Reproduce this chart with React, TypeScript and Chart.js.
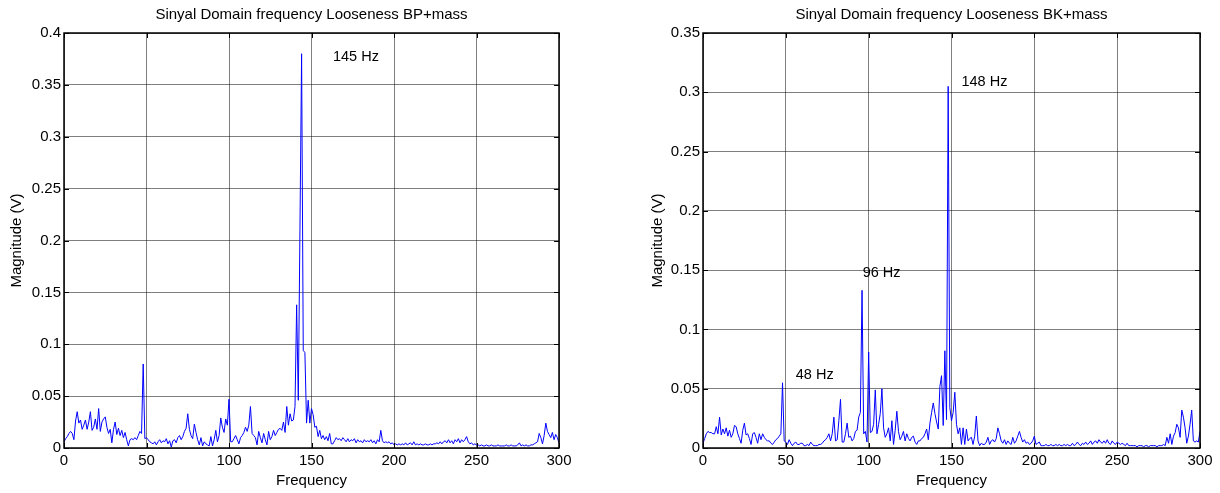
import React, { useEffect, useRef } from "react";
import { Chart, registerables } from "chart.js";

Chart.register(...registerables);

const FONT = "'Liberation Sans', Arial, Helvetica, sans-serif";

// FFT bins, 1 Hz resolution
const FREQ_HZ: number[] = Array.from({ length: 301 }, (_, i) => i);
const X_TICKS = [0, 50, 100, 150, 200, 250, 300];

const BP_TITLE = "Sinyal Domain frequency Looseness BP+mass";
const BK_TITLE = "Sinyal Domain frequency Looseness BK+mass";
const X_LABEL = "Frequency";
const Y_LABEL = "Magnitude (V)";

const BP_Y_TICKS = [0, 0.05, 0.1, 0.15, 0.2, 0.25, 0.3, 0.35, 0.4];
const BK_Y_TICKS = [0, 0.05, 0.1, 0.15, 0.2, 0.25, 0.3, 0.35];

const BP_MAG = [
  0.006, 0.009, 0.011, 0.014, 0.016, 0.014, 0.008, 0.026, 0.035, 0.024,
  0.027, 0.018, 0.022, 0.027, 0.018, 0.025, 0.035, 0.017, 0.020, 0.028,
  0.018, 0.038, 0.016, 0.025, 0.028, 0.030, 0.020, 0.014, 0.018, 0.005,
  0.018, 0.025, 0.013, 0.019, 0.012, 0.017, 0.010, 0.015, 0.008, 0.002,
  0.008, 0.009, 0.008, 0.010, 0.008, 0.012, 0.016, 0.014, 0.081, 0.009,
  0.010, 0.008, 0.006, 0.005, 0.004, 0.006, 0.003, 0.006, 0.008, 0.005,
  0.007, 0.006, 0.009, 0.004, 0.007, 0.001, 0.007, 0.008, 0.005, 0.010,
  0.012, 0.008, 0.011, 0.016, 0.019, 0.033, 0.018, 0.012, 0.009, 0.023,
  0.015, 0.008, 0.003, 0.010, 0.002, 0.006, 0.004, 0.003, 0.002, 0.011,
  0.002, 0.008, 0.017, 0.006, 0.012, 0.029, 0.020, 0.015, 0.028, 0.022,
  0.047, 0.006, 0.006, 0.009, 0.012, 0.008, 0.004, 0.010, 0.012, 0.015,
  0.020, 0.016, 0.022, 0.040, 0.014, 0.012, 0.010, 0.003, 0.016, 0.010,
  0.005, 0.014, 0.008, 0.003, 0.016, 0.008, 0.011, 0.017, 0.012, 0.015,
  0.018, 0.019, 0.017, 0.025, 0.015, 0.040, 0.022, 0.033, 0.026, 0.027,
  0.040, 0.138, 0.046, 0.210, 0.380, 0.094, 0.092, 0.024, 0.046, 0.024,
  0.038, 0.032, 0.020, 0.021, 0.011, 0.017, 0.009, 0.012, 0.008, 0.011,
  0.007, 0.014, 0.004, 0.004, 0.007, 0.010, 0.008, 0.009, 0.007, 0.010,
  0.008, 0.006, 0.009, 0.006, 0.008, 0.007, 0.009, 0.005, 0.008, 0.006,
  0.007, 0.005, 0.008, 0.006, 0.007, 0.006, 0.008, 0.005, 0.007, 0.004,
  0.008, 0.006, 0.017, 0.007, 0.005, 0.006, 0.005, 0.006, 0.004, 0.005,
  0.003, 0.004, 0.003, 0.004, 0.003, 0.004, 0.003, 0.005, 0.003, 0.004,
  0.005, 0.003, 0.006, 0.003, 0.004, 0.003, 0.004, 0.003, 0.003, 0.004,
  0.003, 0.003, 0.004, 0.003, 0.004, 0.004, 0.005, 0.004, 0.006, 0.004,
  0.006, 0.007, 0.005, 0.008, 0.005, 0.007, 0.004, 0.008, 0.006, 0.009,
  0.005, 0.008, 0.006, 0.008, 0.011, 0.006, 0.004, 0.005, 0.003, 0.004,
  0.003, 0.003, 0.002, 0.003, 0.002, 0.002, 0.003, 0.002, 0.002, 0.003,
  0.002, 0.002, 0.002, 0.003, 0.002, 0.002, 0.002, 0.002, 0.003, 0.002,
  0.002, 0.003, 0.002, 0.002, 0.002, 0.003, 0.005, 0.002, 0.003, 0.002,
  0.003, 0.002, 0.002, 0.003, 0.003, 0.004, 0.005, 0.006, 0.014, 0.010,
  0.004, 0.012, 0.024, 0.016, 0.013, 0.010, 0.015, 0.008, 0.013, 0.010,
  0.005,
];

const BK_MAG = [
  0.004, 0.008, 0.012, 0.014, 0.013, 0.013, 0.012, 0.012, 0.018, 0.012,
  0.026, 0.011, 0.016, 0.012, 0.017, 0.010, 0.015, 0.009, 0.012, 0.019,
  0.018, 0.012, 0.008, 0.004, 0.015, 0.021, 0.011, 0.012, 0.008, 0.003,
  0.012, 0.013, 0.009, 0.004, 0.012, 0.007, 0.012, 0.009, 0.007, 0.006,
  0.006, 0.004, 0.003, 0.005, 0.007, 0.008, 0.010, 0.012, 0.055, 0.006,
  0.005, 0.003, 0.007, 0.004, 0.002, 0.004, 0.005, 0.003, 0.003, 0.004,
  0.004, 0.002, 0.002, 0.003, 0.002, 0.005, 0.003, 0.002, 0.002, 0.002,
  0.003, 0.003, 0.004, 0.006, 0.007, 0.009, 0.012, 0.006, 0.012, 0.026,
  0.006, 0.007, 0.023, 0.041, 0.005, 0.005, 0.012, 0.021, 0.009, 0.010,
  0.006, 0.008, 0.014, 0.015, 0.026, 0.030, 0.133, 0.012, 0.014, 0.005,
  0.081, 0.013, 0.014, 0.020, 0.049, 0.012, 0.020, 0.029, 0.050, 0.017,
  0.009, 0.012, 0.017, 0.006, 0.023, 0.003, 0.015, 0.031, 0.014, 0.007,
  0.010, 0.014, 0.006, 0.012, 0.008, 0.006, 0.009, 0.010, 0.005, 0.003,
  0.006, 0.006, 0.008, 0.009, 0.012, 0.016, 0.007, 0.021, 0.030, 0.038,
  0.029, 0.022, 0.016, 0.052, 0.061, 0.019, 0.082, 0.024, 0.305, 0.034,
  0.023, 0.030, 0.047, 0.020, 0.012, 0.017, 0.003, 0.017, 0.003, 0.016,
  0.006, 0.008, 0.009, 0.003, 0.010, 0.027, 0.006, 0.002, 0.004, 0.003,
  0.003, 0.005, 0.009, 0.003, 0.006, 0.007, 0.005, 0.008, 0.017, 0.012,
  0.006, 0.004, 0.007, 0.003, 0.006, 0.004, 0.003, 0.009, 0.004, 0.006,
  0.010, 0.014, 0.009, 0.005, 0.007, 0.004, 0.005, 0.003, 0.004, 0.006,
  0.010, 0.003, 0.004, 0.005, 0.002, 0.002, 0.002, 0.003, 0.002, 0.002,
  0.003, 0.002, 0.002, 0.003, 0.002, 0.003, 0.002, 0.002, 0.003, 0.002,
  0.003, 0.002, 0.002, 0.004, 0.002, 0.003, 0.005, 0.003, 0.002, 0.004,
  0.003, 0.005, 0.003, 0.004, 0.006, 0.003, 0.005, 0.006, 0.004, 0.007,
  0.005, 0.004, 0.006, 0.004, 0.007, 0.004, 0.003, 0.006, 0.004, 0.003,
  0.005, 0.004, 0.003, 0.004, 0.003, 0.002, 0.004, 0.002, 0.002, 0.002,
  0.002, 0.002, 0.001, 0.002, 0.002, 0.002, 0.001, 0.002, 0.002, 0.001,
  0.002, 0.002, 0.002, 0.002, 0.001, 0.002, 0.002, 0.002, 0.003, 0.002,
  0.009, 0.004, 0.012, 0.003, 0.010, 0.013, 0.020, 0.017, 0.009, 0.032,
  0.026, 0.017, 0.004, 0.010, 0.020, 0.032, 0.006, 0.005, 0.006, 0.005,
  0.014,
];

// peak annotations (text anchored in data units: left edge, baseline)
const BP_NOTES = [{ text: "145 Hz", x: 163, y: 0.373 }];
const BK_NOTES = [
  { text: "148 Hz", x: 156, y: 0.305 },
  { text: "96 Hz", x: 96.4, y: 0.144 },
  { text: "48 Hz", x: 56, y: 0.0586 },
];

const framePlugin = {
  id: "frame",
  afterDraw(chart: any, _args: any, opts: any) {
    const { ctx, chartArea, scales } = chart;
    const { left, right, top, bottom } = chartArea;
    const x = scales.x;
    const y = scales.y;
    ctx.save();
    ctx.strokeStyle = "#000";
    ctx.lineWidth = 1;
    ctx.beginPath();
    x.ticks.forEach((t: any) => {
      const px = Math.round(x.getPixelForValue(t.value)) + 0.5;
      ctx.moveTo(px, top);
      ctx.lineTo(px, top + 5);
      ctx.moveTo(px, bottom);
      ctx.lineTo(px, bottom - 5);
    });
    y.ticks.forEach((t: any) => {
      const py = Math.round(y.getPixelForValue(t.value)) + 0.5;
      ctx.moveTo(left, py);
      ctx.lineTo(left + 5, py);
      ctx.moveTo(right, py);
      ctx.lineTo(right - 5, py);
    });
    ctx.stroke();
    ctx.lineWidth = 1.5;
    ctx.strokeRect(left, top, right - left, bottom - top);
    // annotations
    ctx.fillStyle = "#000";
    ctx.font = `14.5px ${FONT}`;
    ctx.textAlign = "left";
    ctx.textBaseline = "alphabetic";
    (opts.notes || []).forEach((n: any) => {
      ctx.fillText(n.text, x.getPixelForValue(n.x), y.getPixelForValue(n.y));
    });
    ctx.restore();
  },
};

type Geo = { padRight: number; yWidth: number; yTitlePad: number };

function makeConfig(mags: number[], yTicks: number[], title: string, notes: any[], geo: Geo): any {
  const font = { family: FONT, size: 15 };
  const gridColor = "rgba(0,0,0,0.5)";
  return {
    type: "line",
    data: {
      datasets: [
        {
          data: FREQ_HZ.map((f, i) => ({ x: f, y: mags[i] })),
          borderColor: "#0000ff",
          borderWidth: 1,
          pointRadius: 0,
          tension: 0,
          fill: false,
        },
      ],
    },
    options: {
      animation: false,
      responsive: false,
      events: [],
      layout: { padding: { left: 0, right: geo.padRight, top: 0, bottom: 0 } },
      plugins: {
        legend: { display: false },
        tooltip: { enabled: false },
        title: {
          display: true,
          text: title,
          fullSize: false,
          padding: { top: 6, bottom: 9 },
          color: "#000",
          font: { family: FONT, size: 15, weight: "normal" },
        },
        frame: { notes },
      },
      scales: {
        x: {
          type: "linear",
          min: 0,
          max: 300,
          afterBuildTicks: (s: any) => {
            s.ticks = X_TICKS.map((v) => ({ value: v }));
          },
          afterFit: (s: any) => {
            s.height = 45;
          },
          grid: { color: gridColor, lineWidth: 1, drawTicks: false },
          border: { display: false },
          ticks: {
            padding: 4,
            color: "#000",
            font,
            maxRotation: 0,
            autoSkip: false,
            callback: (v: any) => String(v),
          },
          title: {
            display: true,
            text: X_LABEL,
            color: "#000",
            font,
            padding: { top: 0, bottom: 3 },
          },
        },
        y: {
          type: "linear",
          min: 0,
          max: yTicks[yTicks.length - 1],
          afterBuildTicks: (s: any) => {
            s.ticks = yTicks.map((v) => ({ value: v }));
          },
          afterFit: (s: any) => {
            s.width = geo.yWidth;
          },
          grid: { color: gridColor, lineWidth: 1, drawTicks: false },
          border: { display: false },
          ticks: {
            padding: 3,
            color: "#000",
            font,
            autoSkip: false,
            callback: (v: any) => String(Number(Number(v).toFixed(2))),
          },
          title: {
            display: true,
            text: Y_LABEL,
            color: "#000",
            font,
            padding: { top: geo.yTitlePad, bottom: 0 },
          },
        },
      },
    },
    plugins: [framePlugin],
  };
}

function Panel(props: { left: number; build: () => any }) {
  const ref = useRef<HTMLCanvasElement | null>(null);
  useEffect(() => {
    const chart = new Chart(ref.current as HTMLCanvasElement, props.build());
    return () => chart.destroy();
  }, []);
  return (
    <canvas
      ref={ref}
      width={610}
      height={493}
      style={{ position: "absolute", left: props.left, top: 0, width: 610, height: 493 }}
    />
  );
}

export default function App() {
  return (
    <div style={{ position: "absolute", left: 0, top: 0, width: 1220, height: 493, background: "#fff" }}>
      <Panel
        left={0}
        build={() => makeConfig(BP_MAG, BP_Y_TICKS, BP_TITLE, BP_NOTES, { padRight: 51, yWidth: 64, yTitlePad: 8 })}
      />
      <Panel
        left={610}
        build={() => makeConfig(BK_MAG, BK_Y_TICKS, BK_TITLE, BK_NOTES, { padRight: 20, yWidth: 93, yTitlePad: 38.5 })}
      />
    </div>
  );
}
